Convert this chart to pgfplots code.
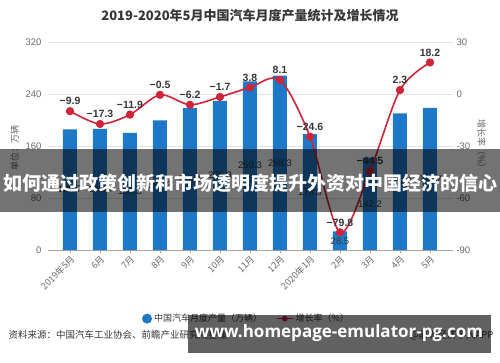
\documentclass[border=0pt]{standalone}
\usepackage{pgfplots}
\usepackage{pgfplotstable}
\pgfplotsset{compat=1.18}
\usepackage{fontspec}
\setmainfont{Noto Sans CJK SC}
\newfontfamily\numfont{Liberation Sans}
\newfontfamily\wmfont{Open Sans}
\definecolor{barblue}{RGB}{30,120,200}
\definecolor{linered}{RGB}{205,38,58}
\definecolor{gridc}{RGB}{226,226,226}
\definecolor{tickc}{RGB}{105,105,105}
\definecolor{txtc}{RGB}{55,55,55}
\def\stripminus-#1\relax{#1}
\newcommand\signedlab[1]{%
  \pgfmathfloattofixed{#1}\edef\vv{\pgfmathresult}%
  \ifdim\vv pt<0pt −\pgfmathprintnumber[fixed,fixed zerofill,precision=1,assume math mode=true]{\expandafter\stripminus\vv\relax}%
  \else\pgfmathprintnumber[fixed,fixed zerofill,precision=1,assume math mode=true]{\vv}\fi}
\pgfplotstableread{
x prod rate
0 185.7 -9.9
1 186.4 -17.3
2 180.3 -11.9
3 199.3 -0.5
4 218.1 -6.2
5 229.3 -1.7
6 259.3 3.8
7 268.3 8.1
8 178.3 -24.6
9 28.5 -79.8
10 142.2 -44.5
11 210.2 2.3
12 218.7 18.2
}\data
\begin{document}
\begin{tikzpicture}[x=1pt,y=1pt]
\path[use as bounding box, fill=white] (0,0) rectangle (500,362);
\node[font=\bfseries\fontsize{13}{15}\selectfont, text=txtc] at (250,346) {2019-2020年5月中国汽车月度产量统计及增长情况};
\begin{axis}[
  at={(48pt,112pt)}, anchor=south west, scale only axis,
  width=405pt, height=208pt,
  xmin=-0.733, xmax=12.767, ymin=0, ymax=320,
  ytick={0,80,160,240,320},
  xtick={0,...,12},
  xticklabels={2019年5月,6月,7月,8月,9月,10月,11月,12月,2020年1月,2月,3月,4月,5月},
  x tick label style={rotate=45, anchor=north east, font=\fontsize{9}{10}\selectfont, text=tickc, inner sep=1pt},
  y tick label style={font=\numfont\fontsize{9.5}{11}\selectfont, text=tickc},
  /pgf/number format/assume math mode=true,
  axis x line*=bottom, axis y line*=left,
  x axis line style={draw=gray!70, line width=0.6pt, -},
  y axis line style={draw=none},
  ytick style={draw=none},
  xtick style={draw=gray!70},
  tick align=outside, major tick length=3pt,
  ymajorgrids, grid style={gridc, line width=0.6pt},
  ylabel={单位：万辆},
  ylabel style={font=\fontsize{9}{10}\selectfont, text=tickc, at={(ticklabel cs:0.5)}, xshift=-2pt},
  legend columns=2,
  legend style={at={(0.49,-0.33)}, anchor=center, draw=none, fill=none, font=\fontsize{9}{10}\selectfont, text=txtc, /tikz/every even column/.append style={column sep=12pt}},
  clip=false,
]
\addplot[ybar, bar width=14pt, fill=barblue, draw=none,
  legend image code/.code={\fill[barblue] (5pt,0pt) circle (5pt);}] table[x=x, y=prod] {\data};
\addlegendentry{中国汽车月度产量（万辆）}
\addlegendimage{legend image code/.code={\draw[linered, line width=1.5pt] (0pt,0pt) -- (16pt,0pt); \fill[linered] (8pt,0pt) circle (2.6pt);}}
\addlegendentry{增长率（\%）}
\addplot[draw=none, mark=none, forget plot,
  point meta=explicit,
  nodes near coords={\signedlab{\pgfplotspointmeta}},
  nodes near coords align=center,
  every node near coord/.append style={font=\numfont\fontsize{9.5}{11}\selectfont, text=txtc, anchor=center}
] table[x=x, y expr=\thisrow{prod}/2, meta=prod] {\data};
\end{axis}
\begin{axis}[
  at={(48pt,112pt)}, anchor=south west, scale only axis,
  width=405pt, height=208pt,
  xmin=-0.733, xmax=12.767, ymin=-90, ymax=30,
  ytick={-90,-60,-30,0,30},
  axis x line=none, axis y line*=right,
  y axis line style={draw=none}, ytick style={draw=none},
  y tick label style={font=\numfont\fontsize{9.5}{11}\selectfont, text=tickc},
  /pgf/number format/assume math mode=true,
  ylabel={增长率（\%）},
  ylabel style={font=\fontsize{9}{10}\selectfont, text=tickc, rotate=180},
  clip=false,
]
\addplot[linered, line width=1.6pt, smooth, tension=0.5, mark=*, mark size=3.3pt,
  mark options={fill=linered, draw=linered},
  point meta=explicit,
  nodes near coords={\signedlab{\pgfplotspointmeta}},
  every node near coord/.append style={font=\numfont\bfseries\fontsize{10.5}{12}\selectfont, text=txtc, anchor=south, yshift=2pt}
] table[x=x, y=rate, meta=rate] {\data};
\end{axis}
\node[anchor=west, font=\fontsize{9.5}{11}\selectfont, text=txtc] at (5,27) {资料来源：中国汽车工业协会、前瞻产业研究院整理};
\node[anchor=east, font=\fontsize{9.5}{11}\selectfont, text=txtc] at (497,27) {@前瞻经济学人APP};
\fill[black, opacity=0.55] (0,150) rectangle (500,213);
\node[text=white, font=\bfseries\fontsize{19}{20}\selectfont] at (250,179) {如何通过政策创新和市场透明度提升外资对中国经济的信心};
\fill[black, opacity=0.62] (188,9) rectangle (491,47);
\node[text=white, font=\wmfont\bfseries\fontsize{17}{19}\selectfont] at (339,29) {www.homepage-emulator-pg.com};
\end{tikzpicture}
\end{document}
